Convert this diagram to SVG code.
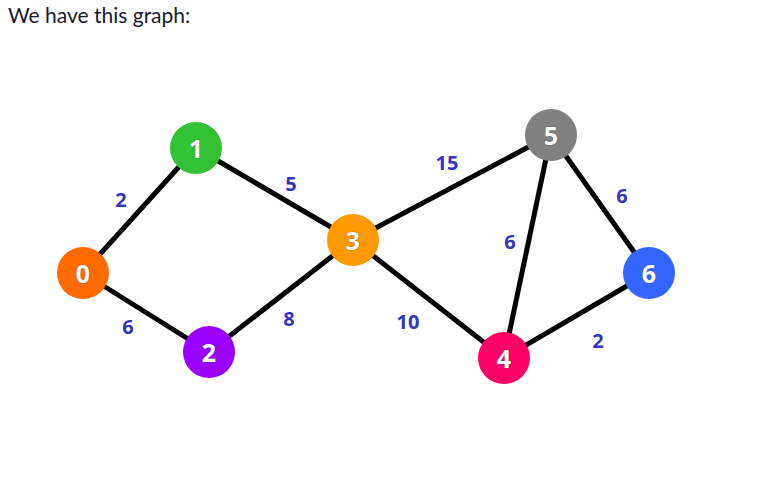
<svg xmlns="http://www.w3.org/2000/svg" width="758" height="489" viewBox="0 0 758 489">
<style>
.edge{stroke:#000;stroke-width:5;fill:none}
.w{font-family:"Open Sans","Liberation Sans",sans-serif;font-weight:bold;font-size:20px;fill:#3535c0;text-anchor:middle;dominant-baseline:central}
.n{font-family:"Open Sans","Liberation Sans",sans-serif;font-weight:bold;font-size:25px;fill:#fff;text-anchor:middle;dominant-baseline:central;stroke:#555;stroke-width:0.6;paint-order:stroke}
</style>
<rect width="758" height="489" fill="#fff"/>
<text x="8" y="23" font-family="Lato,'Liberation Sans',sans-serif" font-size="21" fill="#1a1a2e">We have this graph:</text>
<g id="edges">
<line class="edge" x1="83" y1="273" x2="196" y2="148"/>
<line class="edge" x1="83" y1="273" x2="209" y2="352"/>
<line class="edge" x1="196" y1="148" x2="353" y2="240"/>
<line class="edge" x1="209" y1="352" x2="353" y2="240"/>
<line class="edge" x1="353" y1="240" x2="551" y2="135"/>
<line class="edge" x1="353" y1="240" x2="504" y2="358"/>
<line class="edge" x1="551" y1="135" x2="504" y2="358"/>
<line class="edge" x1="551" y1="135" x2="649" y2="273"/>
<line class="edge" x1="504" y1="358" x2="649" y2="273"/>
<text class="w" x="121" y="199">2</text>
<text class="w" x="128" y="326">6</text>
<text class="w" x="291" y="183">5</text>
<text class="w" x="289" y="318">8</text>
<text class="w" x="447" y="162">15</text>
<text class="w" x="408" y="321">10</text>
<text class="w" x="510" y="241">6</text>
<text class="w" x="622" y="195">6</text>
<text class="w" x="598" y="340">2</text>
</g>
<g id="node0"><circle cx="83" cy="273" r="26" fill="#ff6a00"/><text class="n" x="83" y="273">0</text></g>
<g id="node1"><circle cx="196" cy="148" r="26" fill="#33c233"/><text class="n" x="196" y="148">1</text></g>
<g id="node2"><circle cx="209" cy="352" r="26" fill="#9900ff"/><text class="n" x="209" y="352">2</text></g>
<g id="node3"><circle cx="353" cy="240" r="26" fill="#ff9900"/><text class="n" x="353" y="240">3</text></g>
<g id="node4"><circle cx="504" cy="358" r="26" fill="#ff0066"/><text class="n" x="504" y="358">4</text></g>
<g id="node5"><circle cx="551" cy="135" r="26" fill="#808080"/><text class="n" x="551" y="135">5</text></g>
<g id="node6"><circle cx="649" cy="273" r="26" fill="#3366ff"/><text class="n" x="649" y="273">6</text></g>
</svg>
